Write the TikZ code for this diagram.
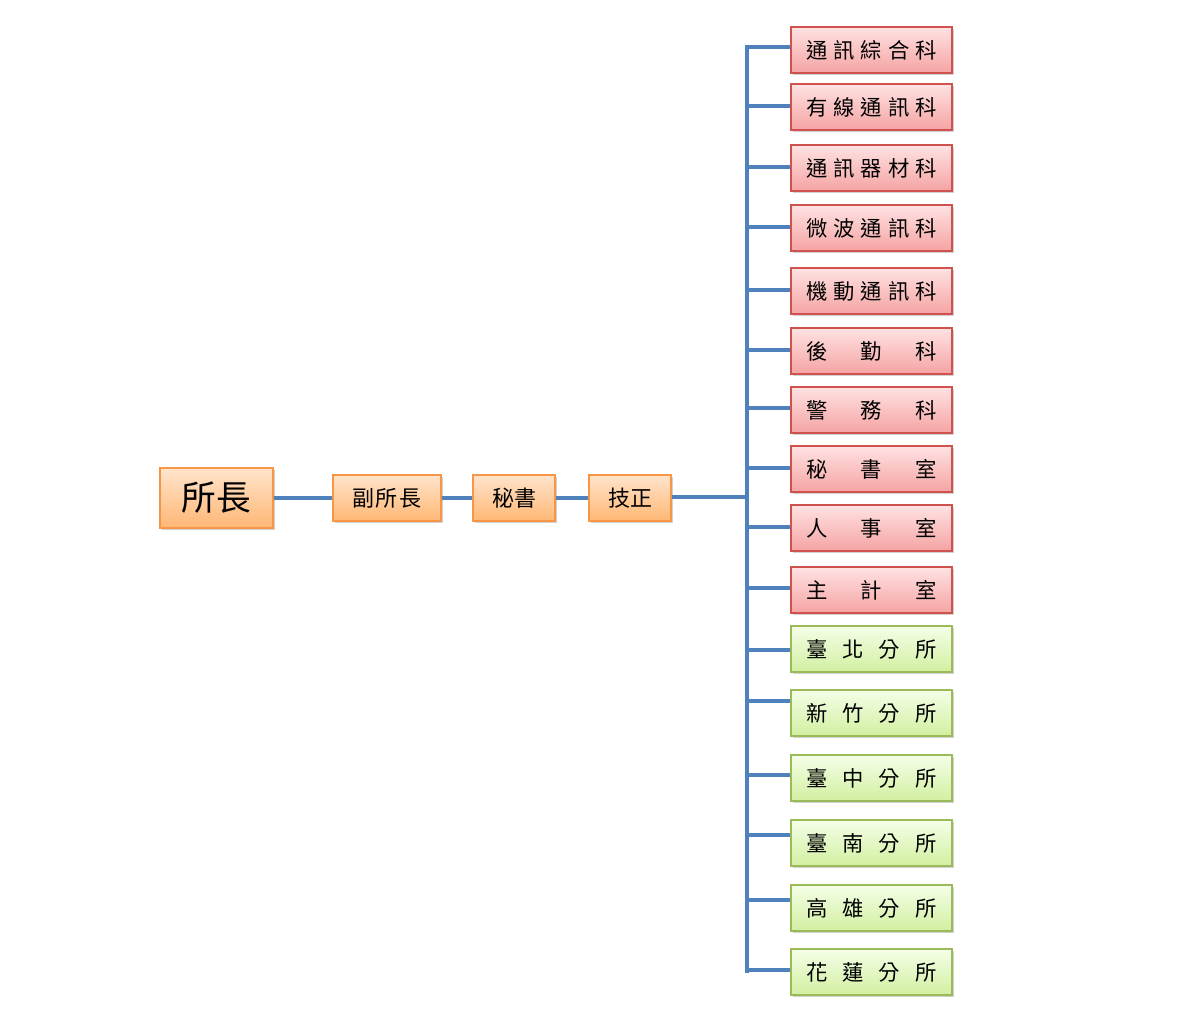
\documentclass[tikz,border=0pt]{standalone}
\usepackage{fontspec}
\newfontfamily\cjk{Noto Sans CJK TC}
\usetikzlibrary{shadows}
\definecolor{linkblue}{HTML}{4F81BD}
\definecolor{orbord}{HTML}{F79646}
\definecolor{ortop}{HTML}{FFE4CC}
\definecolor{orbot}{HTML}{FFB774}
\definecolor{rdbord}{HTML}{D0524F}
\definecolor{rdtop}{HTML}{FFE2E2}
\definecolor{rdbot}{HTML}{F5A3A3}
\definecolor{grbord}{HTML}{9BBB59}
\definecolor{grtop}{HTML}{F4FFE8}
\definecolor{grbot}{HTML}{D2EFA0}
\tikzset{
  boxbase/.style={draw, line width=0.9pt, inner sep=0pt, text=black,
    font=\cjk,
    drop shadow={shadow xshift=1.2pt, shadow yshift=-1.5pt, opacity=0.3, fill=black!60}},
  orbox/.style={boxbase, draw=orbord, top color=ortop, bottom color=orbot, minimum height=34.5pt},
  rdbox/.style={boxbase, draw=rdbord, top color=rdtop, bottom color=rdbot,
    minimum width=120.75pt, minimum height=34.5pt, font=\cjk\fontsize{16pt}{16pt}\selectfont},
  grbox/.style={boxbase, draw=grbord, top color=grtop, bottom color=grbot,
    minimum width=120.75pt, minimum height=34.5pt, font=\cjk\fontsize{16pt}{16pt}\selectfont},
  link/.style={draw=linkblue, line width=3pt},
  linkshadow/.style={draw=black, opacity=0.15, line width=3pt, xshift=1pt, yshift=-1.2pt}
}
\newcommand{\sprd}[1]{\raisebox{-1.5pt}{\makebox[97.5pt][s]{#1}}}
\begin{document}
\begin{tikzpicture}[x=0.75pt,y=-0.75pt]
\useasboundingbox (0,0) rectangle (1200,1019);
% left chain
\node[orbox, minimum width=84.75pt, minimum height=45pt, font=\cjk\fontsize{26pt}{26pt}\selectfont] (dir) at (216.5,498) {\raisebox{-1.5pt}{所長}};
\node[orbox, minimum width=81pt, font=\cjk\fontsize{16.5pt}{16.5pt}\selectfont] (dep) at (387,498) {\raisebox{-1.5pt}{副\kern1pt 所\kern1pt 長}};
\node[orbox, minimum width=61.5pt, font=\cjk\fontsize{16.5pt}{16.5pt}\selectfont] (sec) at (514,498) {\raisebox{-1.5pt}{秘書}};
\node[orbox, minimum width=61.5pt, font=\cjk\fontsize{16.5pt}{16.5pt}\selectfont] (eng) at (630,498) {\raisebox{-1.5pt}{技正}};
% right column
\node[rdbox] (r1) at (871.5,50) {\sprd{通\hfill 訊\hfill 綜\hfill 合\hfill 科}};
\node[rdbox] (r2) at (871.5,107) {\sprd{有\hfill 線\hfill 通\hfill 訊\hfill 科}};
\node[rdbox] (r3) at (871.5,168) {\sprd{通\hfill 訊\hfill 器\hfill 材\hfill 科}};
\node[rdbox] (r4) at (871.5,228) {\sprd{微\hfill 波\hfill 通\hfill 訊\hfill 科}};
\node[rdbox] (r5) at (871.5,291) {\sprd{機\hfill 動\hfill 通\hfill 訊\hfill 科}};
\node[rdbox] (r6) at (871.5,351) {\sprd{後\hfill 勤\hfill 科}};
\node[rdbox] (r7) at (871.5,410) {\sprd{警\hfill 務\hfill 科}};
\node[rdbox] (r8) at (871.5,469) {\sprd{秘\hfill 書\hfill 室}};
\node[rdbox] (r9) at (871.5,528) {\sprd{人\hfill 事\hfill 室}};
\node[rdbox] (r10) at (871.5,590) {\sprd{主\hfill 計\hfill 室}};
\node[grbox] (g1) at (871.5,649) {\sprd{臺\hfill 北\hfill 分\hfill 所}};
\node[grbox] (g2) at (871.5,713) {\sprd{新\hfill 竹\hfill 分\hfill 所}};
\node[grbox] (g3) at (871.5,778) {\sprd{臺\hfill 中\hfill 分\hfill 所}};
\node[grbox] (g4) at (871.5,843) {\sprd{臺\hfill 南\hfill 分\hfill 所}};
\node[grbox] (g5) at (871.5,908) {\sprd{高\hfill 雄\hfill 分\hfill 所}};
\node[grbox] (g6) at (871.5,972) {\sprd{花\hfill 蓮\hfill 分\hfill 所}};
% trunk
\coordinate (ttop) at (747,47);
\coordinate (tbot) at (747,971);
\coordinate (tmid) at (747,497);
\foreach \sty in {linkshadow, link}{
  \draw[\sty] (dir.east) -- (dep.west);
  \draw[\sty] (dep.east) -- (sec.west);
  \draw[\sty] (sec.east) -- (eng.west);
  \draw[\sty] ([yshift=0.75pt]eng.east) -- (tmid);
  \draw[\sty, line cap=rect] (ttop) -- (tbot);
  \foreach \b/\d in {r1/2.25, r2/0.75, r3/0.75, r4/0.75, r5/0.75, r6/0.75, r7/1.5, r8/0.75, r9/0.75, r10/1.5,
                     g1/-0.75, g2/9, g3/2.25, g4/6, g5/6, g6/1.5}
    \draw[\sty] ([yshift=\d pt]\b.west) -- ([yshift=\d pt]\b.west -| ttop);
}
\end{tikzpicture}
\end{document}
